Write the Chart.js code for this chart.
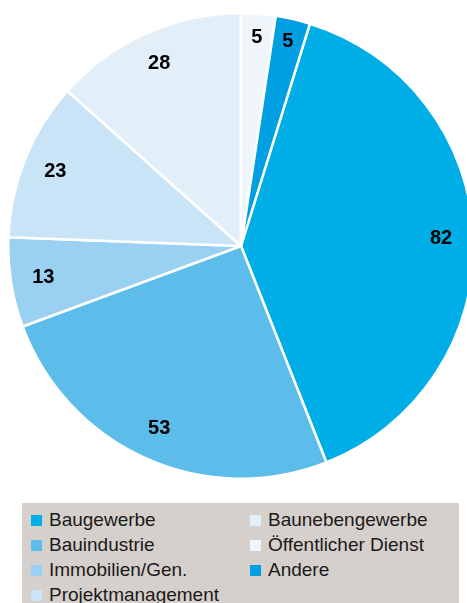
<!DOCTYPE html>
<html>
<head>
<meta charset="utf-8">
<script src="https://cdn.jsdelivr.net/npm/chart.js@4/dist/chart.umd.min.js"></script>
<style>
  html, body { margin: 0; padding: 0; background: #fff; width: 467px; height: 603px; overflow: hidden; }
  #box { position: absolute; left: 7px; top: 12px; width: 468px; height: 468px; }
  #legende {
    position: absolute; left: 22px; top: 503px; width: 437px; height: 110px;
    background: #d5d0cc;
    font-family: "Liberation Sans", Arial, sans-serif; font-size: 19px; color: #1a1a1a;
  }
  .eintrag { position: absolute; white-space: nowrap; line-height: 20px; }
  .eintrag span.farbe { position: absolute; left: 0; top: 5px; width: 11px; height: 11px; }
  .eintrag span.text { position: absolute; left: 18px; top: 0; }
</style>
</head>
<body>
<div id="box"><canvas id="myChart"></canvas></div>
<div id="legende"></div>

<script>
const kategorien = [
  'Baugewerbe',
  'Bauindustrie',
  'Immobilien/Gen.',
  'Projektmanagement',
  'Baunebengewerbe',
  'Öffentlicher Dienst',
  'Andere'
];
const werte = [82, 53, 13, 23, 28, 5, 5];
const farben = ['#00aee7', '#5cbcea', '#9ad0f1', '#c9e4f6', '#e2eff9', '#eef6fc', '#009fe2'];

const summe = werte.reduce((a, b) => a + b, 0);

// Zahlen in die Segmente schreiben
const zahlenPlugin = {
  id: 'zahlen',
  afterDatasetsDraw(chart) {
    const ctx = chart.ctx;
    const meta = chart.getDatasetMeta(0);
    ctx.save();
    ctx.font = 'bold 20px "Liberation Sans", Arial, sans-serif';
    ctx.fillStyle = '#000';
    ctx.textAlign = 'center';
    ctx.textBaseline = 'middle';
    meta.data.forEach((arc, i) => {
      const p = arc.getProps(['x', 'y', 'startAngle', 'endAngle', 'outerRadius'], true);
      const mitte = (p.startAngle + p.endAngle) / 2;
      // kleine Segmente etwas weiter aussen
      const f = werte[i] < 10 ? 0.9 : 0.86;
      const r = p.outerRadius * f;
      ctx.fillText(werte[i], p.x + Math.cos(mitte) * r, p.y + Math.sin(mitte) * r);
    });
    ctx.restore();
  }
};

const ctx = document.getElementById('myChart');
const chart = new Chart(ctx, {
  type: 'pie',
  data: {
    labels: kategorien,
    datasets: [{
      data: werte,
      backgroundColor: farben,
      borderColor: '#ffffff',
      borderWidth: 2.5
    }]
  },
  options: {
    animation: false,
    responsive: true,
    maintainAspectRatio: false,
    // die beiden kleinen Segmente stehen oben vor Baugewerbe
    rotation: 360 * (werte[5] + werte[6]) / summe,
    layout: { padding: 0 },
    plugins: {
      legend: { display: false },
      tooltip: { enabled: false }
    }
  },
  plugins: [zahlenPlugin]
});

// Legende in zwei Spalten (spaltenweise gefüllt)
const legende = document.getElementById('legende');
const items = chart.options.plugins.legend.labels.generateLabels(chart);
items.forEach((item, i) => {
  const spalte = i < 4 ? 0 : 1;
  const zeile = i < 4 ? i : i - 4;
  const div = document.createElement('div');
  div.className = 'eintrag';
  div.style.left = (spalte === 0 ? 9 : 228) + 'px';
  div.style.top = (7 + zeile * 25) + 'px';
  div.innerHTML = '<span class="farbe" style="background:' + item.fillStyle + '"></span><span class="text">' + item.text + '</span>';
  legende.appendChild(div);
});
</script>
</body>
</html>
